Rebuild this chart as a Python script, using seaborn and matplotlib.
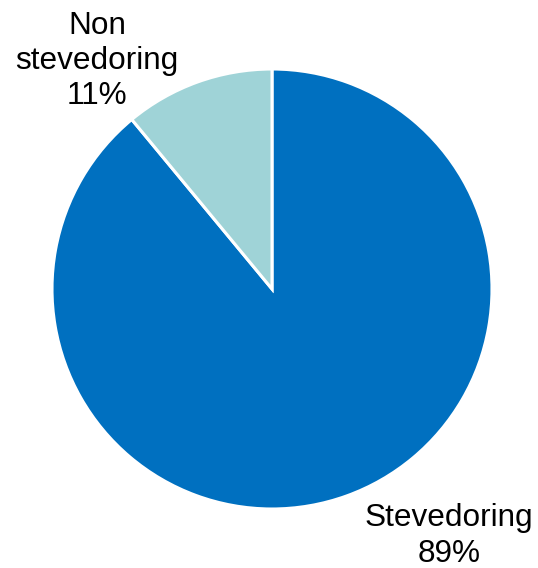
import matplotlib
matplotlib.use("Agg")
import matplotlib.pyplot as plt
import seaborn as sns

categories = ["Stevedoring", "Non\nstevedoring"]
shares = [89, 11]
colors = ["#0070C0", "#9FD3D7"]

sns.set_theme(style="white")
plt.rcParams["font.family"] = ["Liberation Sans", "DejaVu Sans"]

W, H = 538, 568
fig = plt.figure(figsize=(W / 100, H / 100), dpi=100)
ax = fig.add_axes([0, 0, 1, 1])
ax.set_xlim(0, W)
ax.set_ylim(0, H)
ax.set_aspect("equal")
ax.axis("off")

cx, cy, r = 272, H - 289, 220
ax.pie(shares, colors=colors, startangle=90, counterclock=False,
       center=(cx, cy), radius=r,
       wedgeprops=dict(edgecolor="white", linewidth=2.2))
ax.set_xlim(0, W)
ax.set_ylim(0, H)

label_pos = [(449, H - 536), (97, H - 61)]
for name, val, (x, y) in zip(categories, shares, label_pos):
    ax.text(x, y, f"{name}\n{val}%", ha="center", va="center",
            fontsize=22.7, color="black", linespacing=1.22)

fig.savefig("out.png", dpi=100)
